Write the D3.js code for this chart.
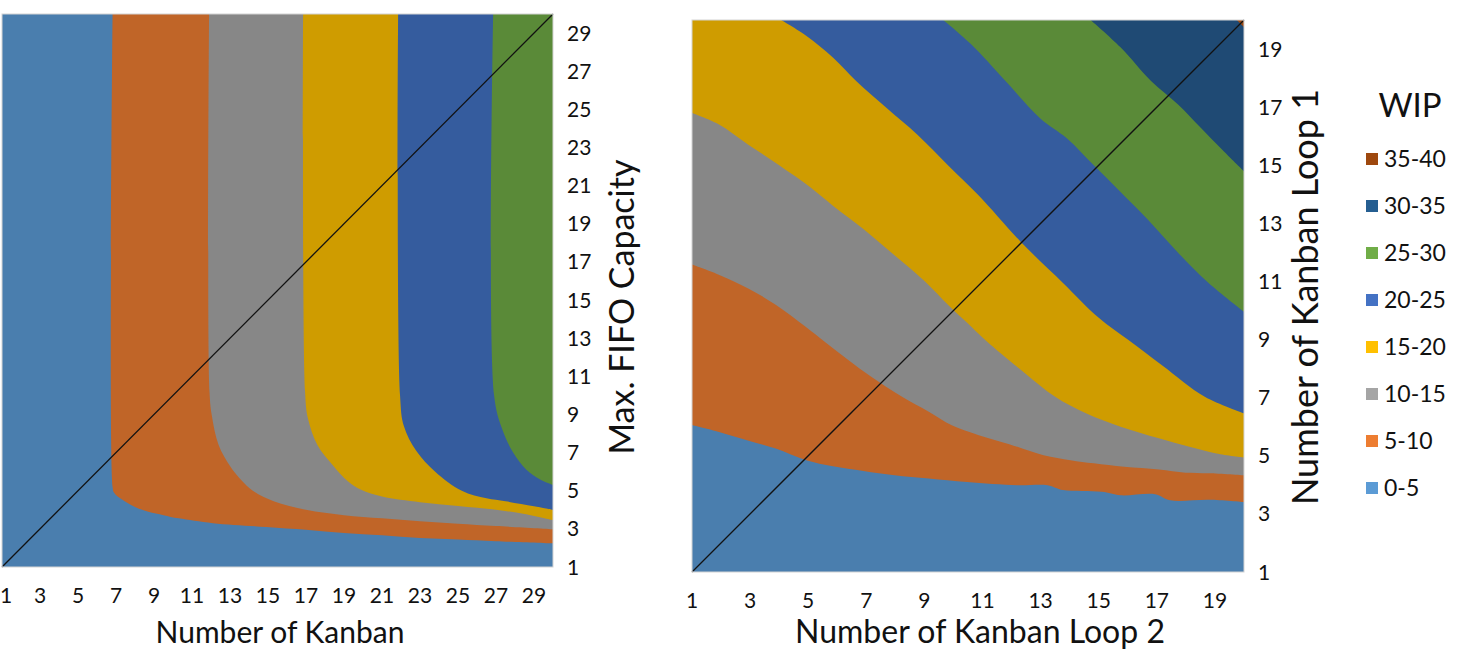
<!DOCTYPE html>
<html><head><meta charset="utf-8">
<script src="https://cdn.jsdelivr.net/npm/d3@7"></script>
<style>
body{margin:0;background:#fff}
svg{display:block}
text{font-family:Lato,"Open Sans",sans-serif;fill:#111}
</style>
</head><body>
<svg id="chart" width="1464" height="650"></svg>
<script>
// ---------- data ----------
const wipBands = ["0-5","5-10","10-15","15-20","20-25","25-30","30-35","35-40"];
const surfaceColors = ["#4a7eae","#c06528","#878787","#cf9c00","#355c9e","#5a8a38","#1f4a74","#9c4913"];
const legendColors = ["#5b9bd5","#ed7d31","#a5a5a5","#ffc000","#4472c4","#70ad47","#255e91","#9e480e"];

const leftXTicks = [1,3,5,7,9,11,13,15,17,19,21,23,25,27,29];
const leftYTicks = [1,3,5,7,9,11,13,15,17,19,21,23,25,27,29];
const rightXTicks = [1,3,5,7,9,11,13,15,17,19];
const rightYTicks = [1,3,5,7,9,11,13,15,17,19];

// Left chart: WIP contour boundaries [Number of Kanban, Max. FIFO Capacity]
const leftWip5  = [[6.82,30],[6.82,5.2],[6.9,4.9],[7.3,4.55],[8,4.15],[8.7,3.9],[9.5,3.72],[10.3,3.55],[12.1,3.3],[14.9,3.1],[17,2.95],[19,2.78],[21,2.66],[23,2.52],[25,2.44],[27,2.35],[30,2.24]];
const leftWip10 = [[11.9,30],[11.92,10.2],[12.05,8.9],[12.4,7.4],[13.0,6.3],[13.6,5.55],[14.2,5.0],[15.3,4.45],[17,4.0],[19,3.72],[21,3.55],[23,3.4],[25,3.27],[27,3.15],[30,2.98]];
const leftWip15 = [[16.85,30],[16.95,10.2],[17.1,8.8],[17.6,7.4],[18.4,6.35],[19.2,5.5],[19.9,5.05],[21,4.7],[23,4.4],[25,4.2],[27,4.0],[28.5,3.78],[30,3.46]];
const leftWip20 = [[21.85,30],[21.95,10],[22.15,8.4],[22.8,7.1],[23.8,6.0],[25.2,5.0],[26.5,4.6],[27.5,4.45],[29,4.18],[30,3.99]];
const leftWip25 = [[26.85,30],[26.9,10],[27.3,8.3],[27.9,7.0],[28.6,6.1],[29.3,5.6],[30,5.3]];

// Right chart: WIP contour boundaries [Kanban Loop 2, Kanban Loop 1]
const rightWip5  = [[1,6.06],[1.9,5.83],[2.95,5.52],[3.88,5.25],[4.93,4.85],[5.85,4.64],[6.9,4.48],[7.97,4.33],[9.15,4.22],[10.47,4.1],[12.2,3.99],[13.24,3.99],[13.77,3.82],[15.1,3.76],[15.75,3.64],[16.94,3.68],[17.46,3.47],[18.8,3.49],[20,3.41]];
const rightWip10 = [[1,11.58],[1.9,11.24],[2.95,10.75],[3.88,10.2],[4.9,9.45],[5.6,8.9],[6.38,8.3],[7.17,7.72],[8.23,7.03],[9.15,6.52],[9.94,6.05],[10.87,5.71],[11.92,5.4],[13.1,5.02],[14.03,4.85],[14.83,4.74],[15.88,4.62],[17.07,4.53],[17.99,4.42],[18.78,4.4],[20,4.33]];
const rightWip15 = [[1,16.8],[1.9,16.42],[2.95,15.7],[4.0,15.0],[5.06,14.25],[5.85,13.61],[6.91,12.8],[7.97,11.9],[9.02,11.0],[9.81,10.2],[10.5,9.55],[11.13,8.95],[12.45,7.85],[13.5,7.03],[14.56,6.46],[15.75,6.0],[17.07,5.6],[18.12,5.31],[19.05,5.08],[20,4.94]];
const rightWip20 = [[4.07,20],[4.93,19.46],[5.85,18.71],[6.65,17.9],[7.7,16.97],[8.76,16.05],[9.81,15.0],[10.87,13.96],[12.32,12.36],[13.77,10.95],[15.0,9.75],[16.0,9.0],[17.2,8.1],[18.65,7.03],[20,6.46]];
const rightWip25 = [[9.65,20],[10.6,19.17],[11.79,17.9],[12.98,16.62],[13.9,15.93],[14.83,15.0],[15.75,14.08],[16.67,13.15],[17.73,11.99],[18.78,10.95],[20,9.96]];
const rightWip30 = [[14.72,20],[15.75,19.06],[16.8,17.9],[17.73,17.09],[18.52,16.28],[19.31,15.47],[20,14.79]];
const rightWip35 = [[19.75,20],[20,19.75]];

// ---------- drawing ----------
const svg = d3.select("#chart");

function drawPanel(cfg){
  const x = d3.scaleLinear().domain(cfg.xDomain).range([cfg.left, cfg.right]);
  const y = d3.scaleLinear().domain(cfg.yDomain).range([cfg.bottom, cfg.top]);
  const g = svg.append("g");
  const clipId = "clip" + cfg.id;
  svg.append("clipPath").attr("id", clipId).append("rect")
    .attr("x", cfg.left).attr("y", cfg.top)
    .attr("width", cfg.right - cfg.left).attr("height", cfg.bottom - cfg.top);
  const area = g.append("g").attr("clip-path", `url(#${clipId})`);
  area.append("rect").attr("x", x(cfg.xDomain[0])).attr("y", y(cfg.yDomain[1]))
    .attr("width", x(cfg.xDomain[1]) - x(cfg.xDomain[0]))
    .attr("height", y(cfg.yDomain[0]) - y(cfg.yDomain[1]))
    .attr("fill", surfaceColors[0]);
  const [xMin, xMax] = cfg.xDomain, [yMin, yMax] = cfg.yDomain;
  cfg.contours.forEach((c, i) => {
    const first = c[0], last = c[c.length - 1];
    const edge = d3.line().x(d => x(d[0])).y(d => y(d[1]))([[last[0], last[1]], [xMax, last[1]], [xMax, yMax], [first[0], yMax], [first[0], first[1]]]);
    const pts = c.map(d => [x(d[0]), y(d[1])]);
    const curvePath = d3.line().curve(d3.curveCatmullRom.alpha(0.5))(pts);
    area.append("path").attr("d", curvePath + edge.replace(/^M/, "L") + "Z").attr("fill", surfaceColors[i + 1]);
  });
  g.append("line").attr("x1", x(xMin)).attr("y1", y(yMin)).attr("x2", x(xMax)).attr("y2", y(yMax))
    .attr("stroke", "#111").attr("stroke-width", 1.3);
  g.append("rect").attr("x", cfg.left).attr("y", cfg.top)
    .attr("width", cfg.right - cfg.left).attr("height", cfg.bottom - cfg.top)
    .attr("fill", "none").attr("stroke", "#d4d4d4").attr("stroke-width", 1);
  g.append("g").selectAll("text").data(cfg.xTicks).join("text")
    .attr("x", d => Math.max(x(d), 6)).attr("y", cfg.bottom + 36)
    .attr("text-anchor", "middle").attr("font-size", 21).text(d => d);
  g.append("g").selectAll("text").data(cfg.yTicks).join("text")
    .attr("x", cfg.right + 14).attr("y", d => y(d) + 7.5)
    .attr("text-anchor", "start").attr("font-size", 21).text(d => d);
  g.append("text").attr("x", cfg.xTitleX).attr("y", 643).attr("text-anchor", "middle")
    .attr("font-size", cfg.xTitleSize).text(cfg.xTitle);
  g.append("text").attr("transform", `translate(${cfg.yTitleX},${cfg.yTitleY}) rotate(-90)`)
    .attr("text-anchor", "middle").attr("font-size", cfg.yTitleSize).text(cfg.yTitle);
}

drawPanel({id:"L", xDomain:[1,30], yDomain:[1,30], left:2, right:553, top:14, bottom:567,
  contours:[leftWip5,leftWip10,leftWip15,leftWip20,leftWip25],
  xTicks:leftXTicks, yTicks:leftYTicks,
  xTitle:"Number of Kanban", xTitleX:280, xTitleSize:30,
  yTitle:"Max. FIFO Capacity", yTitleX:634, yTitleY:307, yTitleSize:34});

drawPanel({id:"R", xDomain:[1,20], yDomain:[1,20], left:692, right:1244, top:20, bottom:572,
  contours:[rightWip5,rightWip10,rightWip15,rightWip20,rightWip25,rightWip30,rightWip35],
  xTicks:rightXTicks, yTicks:rightYTicks,
  xTitle:"Number of Kanban Loop 2", xTitleX:980, xTitleSize:32,
  yTitle:"Number of Kanban Loop 1", yTitleX:1318, yTitleY:297, yTitleSize:36});

// legend
const lg = svg.append("g");
lg.append("text").attr("x", 1410).attr("y", 117).attr("text-anchor", "middle").attr("font-size", 33).text("WIP");
const order = d3.range(wipBands.length).reverse();
const ly = d3.scalePoint().domain(order).range([159, 488]);
const items = lg.selectAll("g.item").data(order).join("g").attr("class", "item")
  .attr("transform", d => `translate(0,${ly(d)})`);
items.append("rect").attr("x", 1366).attr("y", -6).attr("width", 12).attr("height", 12)
  .attr("fill", d => legendColors[d]);
items.append("text").attr("x", 1384).attr("y", 8).attr("font-size", 23).text(d => wipBands[d]);
</script>
</body></html>
